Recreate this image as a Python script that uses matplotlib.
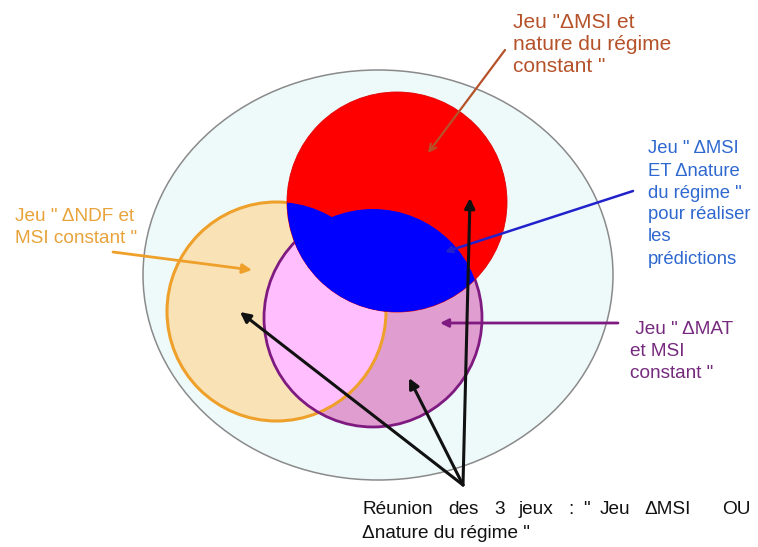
import matplotlib
matplotlib.use("Agg")
import matplotlib.pyplot as plt
from matplotlib.patches import Circle, Ellipse

plt.rcParams['font.family'] = ['Liberation Sans', 'DejaVu Sans']

# ---- data: set labels ----
label_msi_nature_const = ['Jeu "\u0394MSI et', 'nature du régime', 'constant "']
label_ndf = ['Jeu " \u0394NDF et', 'MSI constant "']
label_msi_and_nature = ['Jeu " \u0394MSI', 'ET \u0394nature', 'du régime "', 'pour réaliser', 'les', 'prédictions']
label_mat = [' Jeu " \u0394MAT', 'et MSI', 'constant "']
label_union_words = ['Réunion', 'des', '3', 'jeux', ':', '"', 'Jeu', '\u0394MSI', 'OU']
label_union_line2 = '\u0394nature du régime "'

# ---- layout (pixel coordinates, y downwards) ----
W, H = 758, 547
fig = plt.figure(figsize=(W / 100, H / 100), dpi=100)
ax = fig.add_axes([0, 0, 1, 1])
ax.set_xlim(0, W)
ax.set_ylim(H, 0)
ax.axis('off')

# universe ellipse
ax.add_patch(Ellipse((378, 275), 470, 410, facecolor='#EEFAFA', edgecolor='#8A8A8A', lw=1.1, zorder=1))

orange_c, orange_r = (276.5, 311.5), 109.5
purple_c, purple_r = (373, 318), 109
red_c, red_r = (397, 202), 110

orange_fill = Circle(orange_c, orange_r, facecolor='#F8E2B6', edgecolor='none', zorder=2)
ax.add_patch(orange_fill)
purple_fill = Circle(purple_c, purple_r, facecolor='#DF9DD0', edgecolor='none', zorder=3)
ax.add_patch(purple_fill)
overlap = Circle(purple_c, purple_r, facecolor='#FFBFFF', edgecolor='none', zorder=4)
ax.add_patch(overlap)
overlap.set_clip_path(orange_fill)
ax.add_patch(Circle(orange_c, orange_r, facecolor='none', edgecolor='#EFA02A', lw=2.2, zorder=5))
ax.add_patch(Circle(purple_c, purple_r, facecolor='none', edgecolor='#7E1A80', lw=2.0, zorder=5))

red = Circle(red_c, red_r, facecolor='#FF0000', edgecolor='#E00000', lw=0.6, zorder=6)
ax.add_patch(red)
b1 = Circle(orange_c, orange_r, facecolor='#0000FF', edgecolor='none', zorder=7)
ax.add_patch(b1)
b1.set_clip_path(red)
b2 = Circle(purple_c, purple_r, facecolor='#0000FF', edgecolor='none', zorder=7)
ax.add_patch(b2)
b2.set_clip_path(red)

# ---- arrows ----
def arrow(start, end, color, lw, style, ms):
    ax.annotate('', xy=end, xytext=start,
                arrowprops=dict(arrowstyle=style, color=color, lw=lw,
                                mutation_scale=ms, shrinkA=0, shrinkB=0),
                zorder=9)

arrow((505, 50), (428, 153), '#B5522A', 1.6, '->', 12)
arrow((113, 252), (252, 270), '#EFA02A', 2.0, '-|>', 14)
arrow((633, 191), (445, 252), '#2222CC', 1.8, '->', 10)
arrow((618, 323), (440, 323), '#7E1A80', 2.0, '-|>', 12)
origin = (463, 485)
for tgt in [(240, 312), (409, 378), (470, 198)]:
    arrow(origin, tgt, '#111111', 2.2, '-|>', 15)

# ---- texts ----
def block(lines, x, baselines, color, size):
    for s, y in zip(lines, baselines):
        ax.text(x, y, s, color=color, fontsize=size, ha='left', va='baseline', zorder=10)

block(label_msi_nature_const, 513, [28, 50, 72], '#B5522A', 15)
block(label_ndf, 15, [221, 243], '#E8A33A', 13.7)
block(label_msi_and_nature, 648, [153, 176, 198, 219, 241, 264], '#2F68CF', 13.3)
block(label_mat, 630, [334, 356, 378], '#762A7E', 13.7)

word_x = [362, 448, 494, 518, 568, 583, 600, 644, 722]
for wd, x in zip(label_union_words, word_x):
    ax.text(x, 514, wd, color='#111111', fontsize=13.7, ha='left', va='baseline', zorder=10)
ax.text(362, 538, label_union_line2, color='#111111', fontsize=13.7, ha='left', va='baseline', zorder=10)

fig.savefig('out.png', dpi=100)
